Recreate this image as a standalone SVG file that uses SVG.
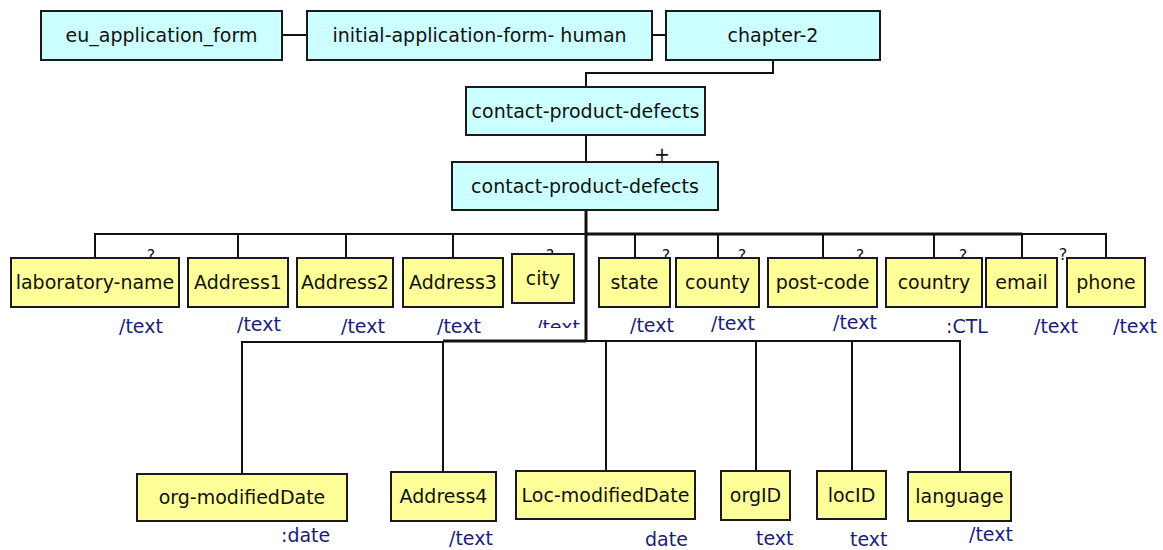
<svg xmlns="http://www.w3.org/2000/svg" width="1163" height="550" viewBox="0 0 1163 550">
<style>
text{font-family:"DejaVu Sans","Verdana",sans-serif;font-size:19px}
.lbl{text-anchor:middle;fill:#111}
.typ{fill:#1b1b7c}
.q{font-size:16px;fill:#111;text-anchor:middle}
.c rect{fill:#ccffff;stroke:#1a1a1a;stroke-width:2}
.y rect{fill:#ffff99;stroke:#1a1a1a;stroke-width:2}
#connectors path{fill:none;stroke:#111;stroke-width:2}
#connectors .thick{stroke-width:3}
</style>
<defs>
<clipPath id="cityclip"><rect x="520" y="300" width="64" height="28"/></clipPath>
</defs>
<rect width="1163" height="550" fill="#ffffff"/>
<g id="connectors">
<path d="M282 35H307M652 35H666"/>
<path d="M773 60V73H586V87"/>
<path d="M586 135V162"/>
<path class="thick" d="M586 210V341"/>
<path d="M95 258V234H1106V258"/>
<path class="thick" d="M586 234H1022"/>
<path d="M238 234V258M346 234V258M453 234V258M635 234V258M718 234V258M823 234V258M934 234V258M1022 234V258"/>
<path d="M242 474V342H443"/>
<path class="thick" d="M443 341H586"/>
<path d="M443 341V472M586 341H960V472M606 341V471M756 341V471M852 341V471"/>
</g>
<g id="marks">
<text x="662" y="161" class="q" style="font-size:19px">+</text>
<text x="151" y="261" class="q">?</text>
<text x="550" y="261" class="q">?</text>
<text x="666" y="261" class="q">?</text>
<text x="742" y="261" class="q">?</text>
<text x="860" y="261" class="q">?</text>
<text x="963" y="261" class="q">?</text>
<text x="1063" y="260" class="q">?</text>
</g>
<g id="n_eu" class="c"><rect x="41" y="11" width="241" height="49"/><text class="lbl" x="161.5" y="42">eu_application_form</text></g>
<g id="n_initial" class="c"><rect x="307" y="11" width="345" height="49"/><text class="lbl" x="479.5" y="42">initial-application-form- human</text></g>
<g id="n_chapter" class="c"><rect x="666" y="11" width="214" height="49"/><text class="lbl" x="773" y="42">chapter-2</text></g>
<g id="n_cpd1" class="c"><rect x="466" y="87" width="239" height="48"/><text class="lbl" x="585.5" y="118">contact-product-defects</text></g>
<g id="n_cpd2" class="c"><rect x="452" y="162" width="266" height="48"/><text class="lbl" x="585" y="193">contact-product-defects</text></g>
<g id="n_lab" class="y"><rect x="11" y="258" width="168" height="49"/><text class="lbl" x="95" y="289">laboratory-name</text><text class="typ" x="119" y="333">/text</text></g>
<g id="n_addr1" class="y"><rect x="188" y="258" width="100" height="49"/><text class="lbl" x="238" y="289">Address1</text><text class="typ" x="237" y="331">/text</text></g>
<g id="n_addr2" class="y"><rect x="297" y="258" width="96" height="49"/><text class="lbl" x="345" y="289">Address2</text><text class="typ" x="341" y="333">/text</text></g>
<g id="n_addr3" class="y"><rect x="403" y="258" width="100" height="49"/><text class="lbl" x="453" y="289">Address3</text><text class="typ" x="437" y="333">/text</text></g>
<g id="n_city" class="y"><rect x="512" y="254" width="62" height="49"/><text class="lbl" x="543" y="285">city</text><text class="typ" x="536" y="334" clip-path="url(#cityclip)">/text</text></g>
<g id="n_state" class="y"><rect x="599" y="258" width="71" height="49"/><text class="lbl" x="634.5" y="289">state</text><text class="typ" x="630" y="332">/text</text></g>
<g id="n_county" class="y"><rect x="676" y="258" width="83" height="49"/><text class="lbl" x="717.5" y="289">county</text><text class="typ" x="711" y="330">/text</text></g>
<g id="n_post" class="y"><rect x="768" y="258" width="109" height="49"/><text class="lbl" x="822.5" y="289">post-code</text><text class="typ" x="833" y="329">/text</text></g>
<g id="n_country" class="y"><rect x="886" y="258" width="96" height="49"/><text class="lbl" x="934" y="289">country</text><text class="typ" x="946" y="333">:CTL</text></g>
<g id="n_email" class="y"><rect x="986" y="258" width="71" height="49"/><text class="lbl" x="1021.5" y="289">email</text><text class="typ" x="1034" y="333">/text</text></g>
<g id="n_phone" class="y"><rect x="1067" y="258" width="78" height="49"/><text class="lbl" x="1106" y="289">phone</text><text class="typ" x="1113" y="333">/text</text></g>
<g id="n_orgmod" class="y"><rect x="137" y="474" width="210" height="47"/><text class="lbl" x="242" y="504">org-modifiedDate</text><text class="typ" x="281" y="542">:date</text></g>
<g id="n_addr4" class="y"><rect x="391" y="472" width="105" height="49"/><text class="lbl" x="443.5" y="503">Address4</text><text class="typ" x="449" y="545">/text</text></g>
<g id="n_locmod" class="y"><rect x="516" y="471" width="179" height="48"/><text class="lbl" x="605.5" y="502">Loc-modifiedDate</text><text class="typ" x="645" y="546">date</text></g>
<g id="n_orgid" class="y"><rect x="721" y="471" width="69" height="49"/><text class="lbl" x="755.5" y="502">orgID</text><text class="typ" x="756" y="545">text</text></g>
<g id="n_locid" class="y"><rect x="817" y="471" width="69" height="48"/><text class="lbl" x="851.5" y="502">locID</text><text class="typ" x="850" y="546">text</text></g>
<g id="n_lang" class="y"><rect x="908" y="472" width="103" height="49"/><text class="lbl" x="959.5" y="503">language</text><text class="typ" x="969" y="541">/text</text></g>
</svg>
